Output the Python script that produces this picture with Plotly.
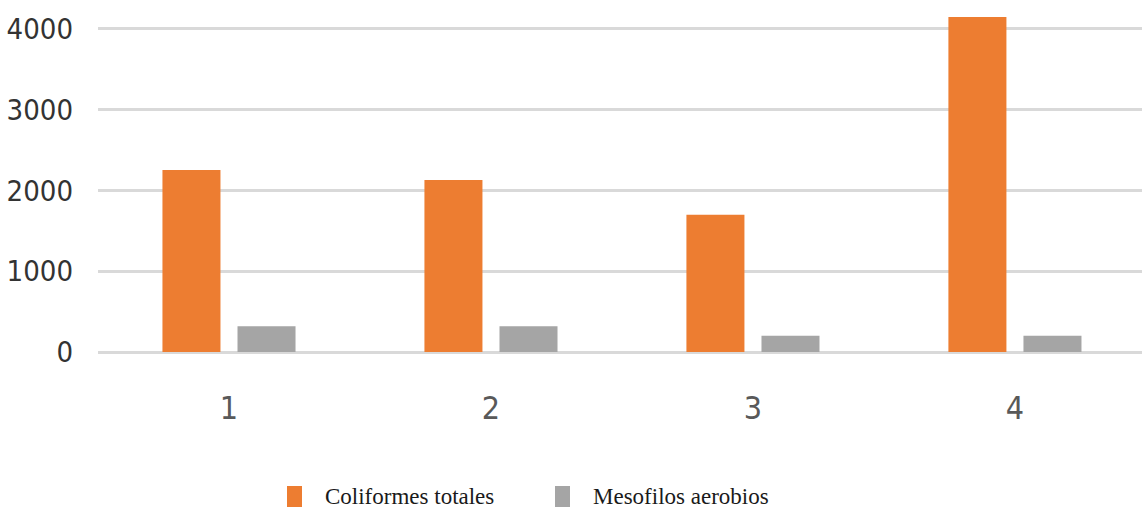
import plotly.graph_objects as go

# Sample groups and counts
categories = ["1", "2", "3", "4"]
coliformes_totales = [2255, 2130, 1700, 4150]
mesofilos_aerobios = [320, 320, 200, 200]
series_names = ["Coliformes totales", "Mesofilos aerobios"]
series_colors = ["#ED7D31", "#A5A5A5"]
y_ticks = [0, 1000, 2000, 3000, 4000]

W, H = 1142, 510
L, R, T, B = 98, 0, 0, 158

fig = go.Figure()
for name, vals, col in zip(series_names, [coliformes_totales, mesofilos_aerobios], series_colors):
    fig.add_trace(go.Bar(x=categories, y=vals, name=name, marker=dict(color=col, line=dict(width=0)),
                         showlegend=False))

tick_font = "Liberation Sans Narrow, DejaVu Sans Condensed, Arial Narrow, sans-serif"

fig.update_layout(
    width=W, height=H,
    margin=dict(l=L, r=R, t=T, b=B, autoexpand=False),
    paper_bgcolor="white", plot_bgcolor="white",
    barmode="group", bargap=0.427, bargroupgap=0.227,
    xaxis=dict(type="category", range=[-0.5, 3.485], showgrid=False, showline=False,
               automargin=False,
               ticks="", tickfont=dict(family=tick_font, size=32, color="#595959"),
               ticklabelstandoff=34),
    yaxis=dict(range=[0, 4359], tickvals=y_ticks, ticktext=[str(v) for v in y_ticks],
               automargin=False,
               showgrid=True, gridcolor="#D9D9D9", gridwidth=3,
               zeroline=True, zerolinecolor="#D9D9D9", zerolinewidth=3,
               showline=False, ticks="",
               tickfont=dict(family=tick_font, size=29, color="#333333"),
               ticklabelstandoff=24),
)

# Legend drawn below the plot area
pw = W - L - R
ph = H - T - B
def px(x):
    return (x - L) / pw
def py(y):
    return (H - B - y) / ph

legend_items = [(287, 323), (555, 591)]
for (sx, tx), name, col in zip(legend_items, series_names, series_colors):
    fig.add_shape(type="rect", xref="paper", yref="paper",
                  x0=px(sx), x1=px(sx + 15), y0=py(507), y1=py(486),
                  fillcolor=col, line=dict(width=0))
    fig.add_annotation(xref="paper", yref="paper", x=px(tx), y=py(496),
                       xanchor="left", yanchor="middle", showarrow=False,
                       text=name, font=dict(family="Liberation Serif, serif", size=23, color="#1a1a1a"))

fig.write_html("out.html")
